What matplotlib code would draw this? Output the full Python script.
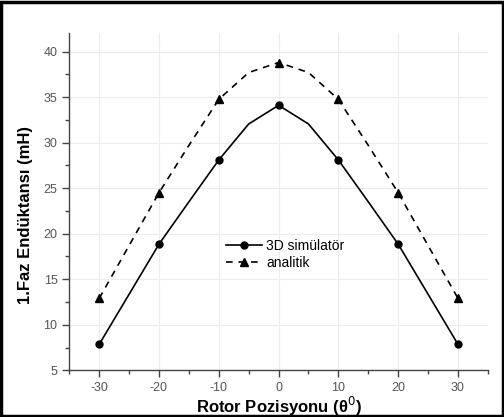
import numpy as np
import matplotlib
matplotlib.use('Agg')
import matplotlib.pyplot as plt
from matplotlib.ticker import MultipleLocator
from matplotlib.patches import Rectangle

plt.rcParams['font.family'] = ['Liberation Sans', 'DejaVu Sans']
plt.rcParams['axes.unicode_minus'] = False

# Data
rotor_pos = [-30, -25, -20, -15, -10, -5, 0, 5, 10, 15, 20, 25, 30]
sim_vals = [7.85, 13.35, 18.85, 23.5, 28.1, 32.05, 34.1, 32.05, 28.1, 23.5, 18.85, 13.35, 7.85]
ana_vals = [12.9, 18.7, 24.5, 29.7, 34.75, 37.7, 38.8, 37.7, 34.75, 29.7, 24.5, 18.7, 12.9]
marker_pos = [0, 2, 4, 6, 8, 10, 12]  # indices that carry a marker

fig = plt.figure(figsize=(5.04, 4.17), dpi=100)
ax = fig.add_axes([0.1375, 0.112, 0.8305, 0.808])

ax.plot(rotor_pos, sim_vals, color='black', lw=1.2, marker='o', ms=5,
        markevery=marker_pos, label='3D simülatör')
ax.plot(rotor_pos, ana_vals, color='black', lw=1.2, ls=(0, (4, 3.5)), marker='^', ms=6,
        markevery=marker_pos, label='analitik')

ax.set_xlim(-35, 35)
ax.set_ylim(5, 42)
ax.xaxis.set_major_locator(MultipleLocator(10))
ax.xaxis.set_minor_locator(MultipleLocator(5))
ax.yaxis.set_major_locator(MultipleLocator(5))
ax.yaxis.set_minor_locator(MultipleLocator(2.5))

ax.grid(True, which='major', color='#ececec', lw=0.8)
ax.set_axisbelow(True)
for side in ['top', 'right']:
    ax.spines[side].set_visible(False)
for side in ['left', 'bottom']:
    ax.spines[side].set_color('#444444')
    ax.spines[side].set_linewidth(1.0)

ax.tick_params(which='major', direction='out', length=5, width=1, color='#444444',
               labelsize=9, labelcolor='#555555')
ax.tick_params(which='minor', direction='out', length=3, width=1, color='#444444')

ax.set_xlabel('Rotor Pozisyonu (θ$^0$)', fontsize=12, fontweight='bold', labelpad=0.5)
ax.set_ylabel('1.Faz Endüktansı (mH)', fontsize=12, fontweight='bold')
ax.yaxis.set_label_coords(-0.087, 0.461)

ax.legend(loc='center left', bbox_to_anchor=(0.357, 0.344), frameon=False, fontsize=10,
          handlelength=2.6, handletextpad=0.3, labelspacing=0.2, borderpad=0)

# outer frame around the whole figure
fig.patches.append(Rectangle((0.002, 0.002), 0.996, 0.993, transform=fig.transFigure,
                             fill=False, edgecolor='black', lw=2.5))

fig.savefig('out.png', dpi=100)
